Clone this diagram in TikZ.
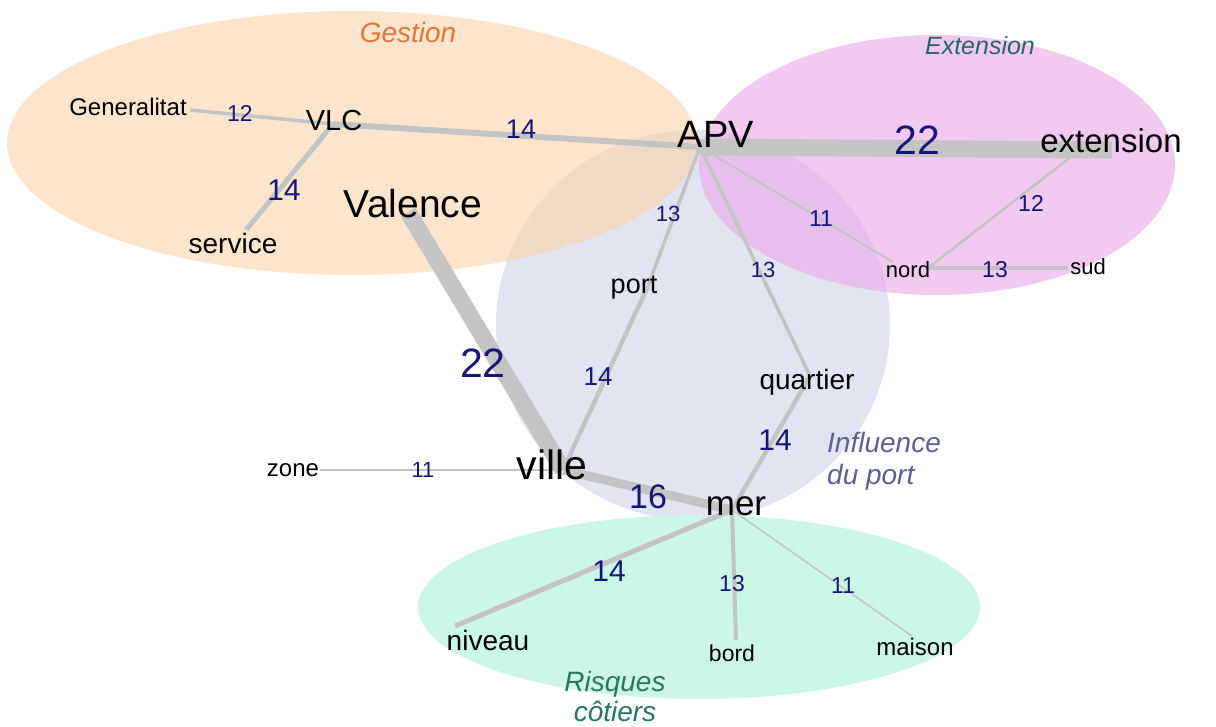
\documentclass[tikz,border=0pt]{standalone}
\usepackage{fontspec}
\setmainfont{Liberation Sans}
\newcommand\fsz[1]{\fontsize{#1}{#1}\selectfont}
\definecolor{cGest}{RGB}{250,212,170}
\definecolor{cExt}{RGB}{233,166,233}
\definecolor{cInf}{RGB}{226,229,241}
\definecolor{cRis}{RGB}{204,246,230}
\definecolor{edge}{RGB}{196,196,196}
\definecolor{num}{RGB}{22,22,120}
\definecolor{tGest}{RGB}{228,118,58}
\definecolor{tExt}{RGB}{42,100,100}
\definecolor{tInf}{RGB}{92,96,150}
\definecolor{tRis}{RGB}{40,118,98}
\tikzset{
  vtx/.style={inner sep=0pt, minimum size=0pt},
  word/.style={inner sep=0pt, text=black},
  numlab/.style={inner sep=0pt, text=num},
  cat/.style={inner sep=0pt},
  lnk/.style={draw=edge, line cap=butt},
}
\begin{document}
\begin{tikzpicture}[x=1pt,y=-1pt]
\useasboundingbox (0,0) rectangle (1216,726);
\fill[white] (0,0) rectangle (1216,726);
% clusters
\fill[cInf] (693,325) ellipse [x radius=197, y radius=195];
\fill[cRis] (699,607) ellipse [x radius=281, y radius=92];
\fill[cGest, fill opacity=0.6] (352,143) ellipse [x radius=345, y radius=132];
\fill[cExt, fill opacity=0.6] (937,165) ellipse [x radius=238, y radius=130];
% vertices
\node[vtx] (Gen) at (190,110) {};
\node[vtx] (VLC) at (333,124) {};
\node[vtx] (serv) at (246,230) {};
\node[vtx] (APV) at (700,147) {};
\node[vtx] (ext) at (1112,150) {};
\node[vtx] (extb) at (1072,156) {};
\node[vtx] (nord) at (928,268) {};
\node[vtx] (nordt) at (893,262) {};
\node[vtx] (sud) at (1068,268) {};
\node[vtx] (port) at (648,286) {};
\node[vtx] (quart) at (810,376) {};
\node[vtx] (Val) at (408,212) {};
\node[vtx] (ville) at (563,470) {};
\node[vtx] (zone) at (320,470) {};
\node[vtx] (mer) at (732,510) {};
\node[vtx] (niv) at (455,626) {};
\node[vtx] (bord) at (736,640) {};
\node[vtx] (mais) at (912,636) {};
% links
\draw[lnk, line width=3.5] (Gen) -- (VLC);
\draw[lnk, line width=6] (VLC) -- (APV);
\draw[lnk, line width=5] (VLC) -- (serv);
\draw[lnk, line width=17] (APV) -- (ext);
\draw[lnk, line width=1.8] (APV) -- (nordt);
\draw[lnk, line width=2.5] (extb) -- (nord);
\draw[lnk, line width=4] (nord) -- (sud);
\draw[lnk, line width=3.5] (APV) -- (port);
\draw[lnk, line width=3.5] (APV) -- (quart);
\draw[lnk, line width=17] (Val) -- (ville);
\draw[lnk, line width=4.5] (port) -- (ville);
\draw[lnk, line width=4.5] (quart) -- (mer);
\draw[lnk, line width=1.5] (zone) -- (ville);
\draw[lnk, line width=9] (ville) -- (mer);
\draw[lnk, line width=5] (mer) -- (niv);
\draw[lnk, line width=4] (mer) -- (bord);
\draw[lnk, line width=1.5] (mer) -- (mais);
% words
\node[word, font=\fsz{24}] (tGen) at (128,107) {Generalitat};
\node[word, font=\fsz{29}] (tVLC) at (334,121) {VLC};
\node[word, font=\fsz{39}] (tVal) at (413,204) {Valence};
\node[word, font=\fsz{28}] (tserv) at (233,243) {service};
\node[word, font=\fsz{38}] (tAPV) at (716,134) {APV};
\node[word, font=\fsz{33}] (text) at (1111,141) {extension};
\node[word, font=\fsz{22}] (tnord) at (908,270) {nord};
\node[word, font=\fsz{22}] (tsud) at (1088,267) {sud};
\node[word, font=\fsz{27}] (tport) at (634,288) {port};
\node[word, font=\fsz{28}] (tquart) at (807,382) {quartier};
\node[word, font=\fsz{24}] (tzone) at (293,470) {zone};
\node[word, font=\fsz{41}] (tville) at (552,465) {ville};
\node[word, font=\fsz{35}] (tmer) at (736,506) {mer};
\node[word, font=\fsz{28}] (tniv) at (488,640) {niveau};
\node[word, font=\fsz{23}] (tbord) at (732,653) {bord};
\node[word, font=\fsz{24}] (tmais) at (915,647) {maison};
% numbers
\node[numlab, font=\fsz{23}] (n1) at (240,113) {12};
\node[numlab, font=\fsz{27}] (n2) at (521,129) {14};
\node[numlab, font=\fsz{30}] (n3) at (284,190) {14};
\node[numlab, font=\fsz{41}] (n4) at (917,140) {22};
\node[numlab, font=\fsz{22}] (n5) at (668,214) {13};
\node[numlab, font=\fsz{23}] (n6) at (821,219) {11};
\node[numlab, font=\fsz{23}] (n7) at (1031,203) {12};
\node[numlab, font=\fsz{22}] (n8) at (763,270) {13};
\node[numlab, font=\fsz{23}] (n9) at (995,270) {13};
\node[numlab, font=\fsz{41}] (n10) at (483,363) {22};
\node[numlab, font=\fsz{26}] (n11) at (598,377) {14};
\node[numlab, font=\fsz{30}] (n12) at (775,440) {14};
\node[numlab, font=\fsz{22}] (n13) at (423,470) {11};
\node[numlab, font=\fsz{34}] (n14) at (648,497) {16};
\node[numlab, font=\fsz{30}] (n15) at (609,571) {14};
\node[numlab, font=\fsz{23}] (n16) at (732,584) {13};
\node[numlab, font=\fsz{23}] (n17) at (843,586) {11};
% cluster titles
\node[cat, text=tGest, font=\fsz{28}\itshape] (cG) at (408,32) {Gestion};
\node[cat, text=tExt, font=\fsz{25}\itshape] (cE) at (980,46) {Extension};
\node[cat, text=tInf, font=\fsz{28}\itshape, align=left, anchor=west] (cI) at (827,461) {Influence\\[4pt]du port};
\node[cat, text=tRis, font=\fsz{28}\itshape, align=center] (cR) at (615,696) {Risques\\[2pt]côtiers};
\end{tikzpicture}
\end{document}
